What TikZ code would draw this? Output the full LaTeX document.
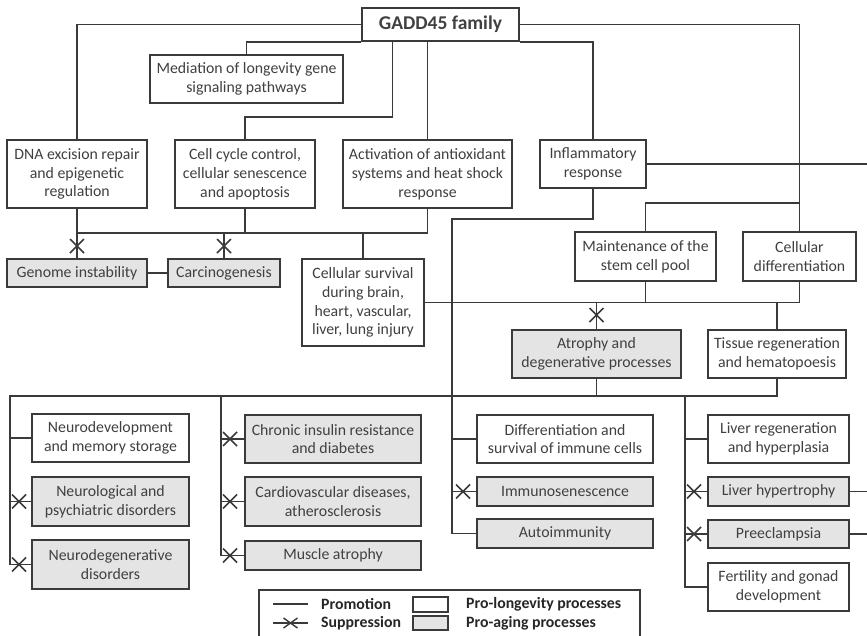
\documentclass[tikz,border=0pt]{standalone}
\usepackage{fontspec}
\setmainfont{Carlito}
\definecolor{ln}{HTML}{3A3A3A}
\definecolor{tx}{HTML}{404040}
\definecolor{gf}{HTML}{E4E4E4}
\tikzset{
  base/.style={draw=ln, line width=1.8pt, text=tx, align=center, inner sep=0pt,
    font=\fontsize{15.8}{18.8}\selectfont},
  pro/.style={base, fill=white},
  agg/.style={base, fill=gf},
  conn/.style={draw=ln, line width=1.8pt},
  ltext/.style={anchor=west, inner sep=0pt, text=black!85, font=\bfseries\fontsize{15.8}{18.8}\selectfont},
  supx/.pic={\draw[draw=ln, line width=1.6pt] (-7,-7) -- (7,7) (-7,7) -- (7,-7);},
  supxs/.pic={\draw[draw=ln, line width=1.4pt] (-7,-5) -- (7,5) (-7,5) -- (7,-5);},
}
\begin{document}
\begin{tikzpicture}[x=1pt,y=-1pt]
\useasboundingbox (0,0) rectangle (867,636);
\clip (0,0) rectangle (867,636);
\fill[white] (0,0) rectangle (867,636);

% ---------- nodes ----------
\node[pro, font=\bfseries\fontsize{19.5}{22}\selectfont, minimum width=157pt, minimum height=33pt] (gadd) at (440.5,24.5) {GADD45 family};
\node[pro, minimum width=193pt, minimum height=48pt] (med) at (246.5,79) {Mediation of longevity gene\\signaling pathways};
\node[pro, minimum width=140pt, minimum height=68pt] (dna) at (77,174) {DNA excision repair\\and epigenetic\\regulation};
\node[pro, minimum width=140pt, minimum height=68pt] (cc) at (245,174) {Cell cycle control,\\cellular senescence\\and apoptosis};
\node[pro, minimum width=169pt, minimum height=68pt] (act) at (427.5,174) {Activation of antioxidant\\systems and heat shock\\response};
\node[pro, minimum width=106pt, minimum height=48pt] (inf) at (593,164) {Inflammatory\\response};
\node[agg, minimum width=140pt, minimum height=28pt] (gen) at (77,273) {Genome instability};
\node[agg, minimum width=112pt, minimum height=28pt] (car) at (224,273) {Carcinogenesis};
\node[pro, minimum width=122pt, minimum height=87pt] (surv) at (363,302.5) {Cellular survival\\during brain,\\heart, vascular,\\liver, lung injury};
\node[pro, minimum width=141pt, minimum height=49pt] (maint) at (645.5,256.5) {Maintenance of the\\stem cell pool};
\node[pro, minimum width=113pt, minimum height=49pt] (cdiff) at (799.5,256.5) {Cellular\\differentiation};
\node[agg, minimum width=169pt, minimum height=48pt] (atr) at (596.5,354) {Atrophy and\\degenerative processes};
\node[pro, minimum width=138pt, minimum height=48pt] (tis) at (777,354) {Tissue regeneration\\and hematopoesis};

\node[pro, minimum width=157pt, minimum height=48pt] (ndev) at (110.5,438) {Neurodevelopment\\and memory storage};
\node[agg, minimum width=157pt, minimum height=49pt] (nlog) at (110.5,501.5) {Neurological and\\psychiatric disorders};
\node[agg, minimum width=157pt, minimum height=49pt] (ndeg) at (110.5,564.5) {Neurodegenerative\\disorders};

\node[agg, minimum width=176pt, minimum height=48pt] (ins) at (333,439) {Chronic insulin resistance\\and diabetes};
\node[agg, minimum width=176pt, minimum height=49pt] (cardio) at (333,501.5) {Cardiovascular diseases,\\atherosclerosis};
\node[agg, minimum width=176pt, minimum height=29pt] (musc) at (333,555.5) {Muscle atrophy};

\node[pro, minimum width=176pt, minimum height=48pt] (immd) at (565,439) {Differentiation and\\survival of immune cells};
\node[agg, minimum width=176pt, minimum height=29pt] (imms) at (565,491.5) {Immunosenescence};
\node[agg, minimum width=176pt, minimum height=29pt] (auto) at (565,533.5) {Autoimmunity};

\node[pro, minimum width=141pt, minimum height=48pt] (livr) at (778.5,439) {Liver regeneration\\and hyperplasia};
\node[agg, minimum width=141pt, minimum height=29pt] (livh) at (778.5,491.5) {Liver hypertrophy};
\node[agg, minimum width=141pt, minimum height=28pt] (pre) at (778.5,534) {Preeclampsia};
\node[pro, minimum width=141pt, minimum height=48pt] (fert) at (778.5,587) {Fertility and gonad\\development};

% ---------- junction coordinates ----------
\coordinate (j1) at (392.5,117);
\coordinate (j2) at (799.5,203);
\coordinate (j3) at (452,219);
\coordinate (b1) at (77,233);
\coordinate (b3) at (10,396);
\coordinate (v2) at (221,396);
\coordinate (v4) at (685,396);
\coordinate (edge) at (868,164);

% ---------- connectors ----------
\draw[conn] (gadd.west) -| (dna.north);
\draw[conn] (gadd.south west) -| (med.north);
\draw[conn] (gadd.south -| j1) -- (j1) -| (cc.north);
\draw[conn] (act.north |- gadd.south) -- (act.north);
\draw[conn] (gadd.south east) -| (inf.north);
\draw[conn] (gadd.east) -| (cdiff.north);
\draw[conn] (j2) -| (maint.north);
\draw[conn] (inf.east) -- (edge);
\draw[conn] (inf.south) |- (j3) |- (auto.west);
\draw[conn] (immd.west) -- (immd.west -| j3);
\draw[conn] (imms.west) -- (imms.west -| j3);

% bus below first row
\draw[conn] (dna.south) -- (gen.north);
\draw[conn] (b1) -- (act.south |- b1) -- (act.south);
\draw[conn] (cc.south) -- (cc.south |- b1);
\draw[conn] (surv.north) -- (surv.north |- b1);
\draw[conn] (car.north) -- (car.north |- b1);
\draw[conn] (gen.east) -- (car.west);

% bus at survival level
\draw[conn] (surv.east) -- (cdiff.south |- surv.east) -- (cdiff.south);
\draw[conn] (maint.south) -- (maint.south |- surv.east);
\draw[conn] (atr.north) -- (atr.north |- surv.east);
\draw[conn] (tis.north) -- (tis.north |- surv.east);

% lower bus
\draw[conn] (atr.south) -- (atr.south |- b3);
\draw[conn] (tis.south) |- (b3) |- (ndeg.west);
\draw[conn] (ndev.west) -- (ndev.west -| b3);
\draw[conn] (nlog.west) -- (nlog.west -| b3);
\draw[conn] (v2) |- (musc.west);
\draw[conn] (ins.west) -- (ins.west -| v2);
\draw[conn] (cardio.west) -- (cardio.west -| v2);
\draw[conn] (v4) |- (fert.west);
\draw[conn] (livr.west) -- (livr.west -| v4);
\draw[conn] (livh.west) -- (livh.west -| v4);
\draw[conn] (pre.west) -- (pre.west -| v4);
\draw[conn] (livh.east) -- (livh.east -| edge);
\draw[conn] (pre.east) -- (pre.east -| edge);

% suppression marks
\pic at ([yshift=12pt]gen.north) {supx};
\pic at ([yshift=12pt]car.north) {supx};
\pic at ([yshift=14pt]atr.north) {supx};
\pic at ([xshift=-12pt]nlog.west) {supx};
\pic at ([xshift=-12pt]ndeg.west) {supx};
\pic at ([xshift=-14pt]ins.west) {supx};
\pic at ([xshift=-14pt]cardio.west) {supx};
\pic at ([xshift=-14pt]musc.west) {supx};
\pic at ([xshift=-13pt]imms.west) {supx};
\pic at ([xshift=-13pt]livh.west) {supx};
\pic at ([xshift=-13pt]pre.west) {supx};

% ---------- legend ----------
\node[draw=ln, line width=1.8pt, fill=white, minimum width=381pt, minimum height=70pt, anchor=north west, inner sep=0pt] (legend) at (258,589) {};
\coordinate (pa) at (273,604);
\coordinate (pb) at (308,604);
\coordinate (sa) at (273,623);
\coordinate (sb) at (308,623);
\draw[draw=ln, line width=1.4pt] (pa) -- (pb);
\draw[draw=ln, line width=1.4pt] (sa) -- (sb);
\pic at (290.5,623) {supxs};
\node[ltext] (lprom) at (321,604) {Promotion};
\node[ltext] (lsupp) at (321,623) {Suppression};
\node[pro, line width=1.5pt, minimum width=35pt, minimum height=15pt] (lbw) at (430.5,604.5) {};
\node[agg, line width=1.5pt, minimum width=35pt, minimum height=14pt] (lbg) at (430.5,623) {};
\node[ltext] (llong) at (466,604) {Pro-longevity processes};
\node[ltext] (lage) at (466,623) {Pro-aging processes};
\end{tikzpicture}
\end{document}
